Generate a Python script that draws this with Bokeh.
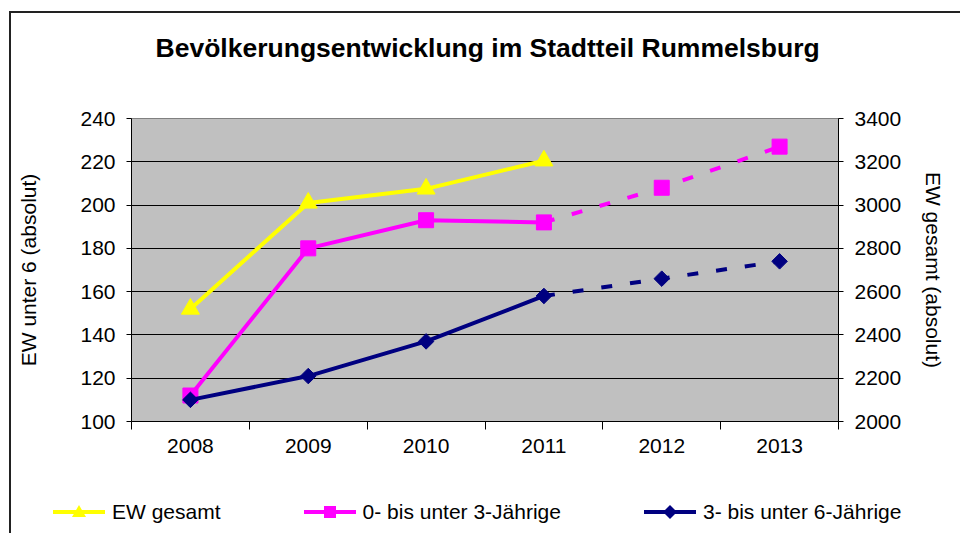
import numpy as np
from bokeh.plotting import figure
from bokeh.layouts import column
from bokeh.models import Range1d, LinearAxis, FixedTicker, Div
from bokeh.core.properties import value
from bokeh.embed import file_html
from bokeh.resources import INLINE

# ---- data ----
years = ["2008", "2009", "2010", "2011", "2012", "2013"]
ew_gesamt = [2520, 3010, 3075, 3205]            # right axis, 2008-2011
u3 = [112, 180, 193, 192, 208, 227]             # 0- bis unter 3-Jaehrige
u6 = [110, 121, 137, 158, 166, 174]             # 3- bis unter 6-Jaehrige
n_actual = 4                                     # 2008-2011 actual, then forecast (dashed)
left_ticks = [100, 120, 140, 160, 180, 200, 220, 240]
right_ticks = [2000, 2200, 2400, 2600, 2800, 3000, 3200, 3400]
title_text = "Bevölkerungsentwicklung im Stadtteil Rummelsburg"
left_label = "EW unter 6 (absolut)"
right_label = "EW gesamt (absolut)"
series_names = ["EW gesamt", "0- bis unter 3-Jährige", "3- bis unter 6-Jährige"]

FONT = "Liberation Sans"
FS = "21px"
YELLOW, MAGENTA, NAVY = "#FFFF00", "#FF00FF", "#000080"
series_colors = [YELLOW, MAGENTA, NAVY]
series_markers = ["triangle", "square", "diamond"]
W = 949

xs = list(range(len(years)))

# ---- title strip ----
tf = figure(width=W, height=92, output_backend="svg", toolbar_location=None,
            x_range=Range1d(0, W), y_range=Range1d(0, 92),
            x_axis_type=None, y_axis_type=None,
            min_border_left=0, min_border_right=0, min_border_top=0, min_border_bottom=0,
            outline_line_color=None, background_fill_color="white",
            border_fill_color="white")
tf.grid.visible = False
tf.text(x=[W / 2 + 3.5], y=[58], text=[title_text], text_font=value(FONT),
        text_font_size=value("26.5px"), text_font_style="bold",
        text_color="black", text_align="center", text_baseline="middle")

# ---- main chart ----
p = figure(width=W, height=375, output_backend="svg", toolbar_location=None,
           x_range=Range1d(-0.5, len(years) - 0.5),
           y_range=Range1d(left_ticks[0], left_ticks[-1]),
           min_border_left=120, min_border_right=122,
           min_border_top=13, min_border_bottom=59,
           background_fill_color="#C0C0C0", border_fill_color="white",
           outline_line_color="#808080")

# x axis: labels at centres, tick marks at category boundaries
xa = p.xaxis[0]
xa.ticker = FixedTicker(ticks=xs, minor_ticks=[i - 0.5 for i in range(len(years) + 1)])
xa.major_label_overrides = {i: y for i, y in zip(xs, years)}
xa.major_tick_out = 0
xa.major_tick_in = 0
xa.minor_tick_out = 8
xa.minor_tick_in = 0
xa.minor_tick_line_color = "black"
xa.axis_line_color = "black"
xa.major_label_standoff = 9
xa.major_label_text_font = FONT
xa.major_label_text_font_size = FS
xa.major_label_text_color = "black"
p.xgrid.visible = False

# left axis
ya = p.yaxis[0]
ya.ticker = FixedTicker(ticks=left_ticks)
ya.minor_tick_line_color = None
ya.major_tick_out = 5
ya.major_tick_in = 0
ya.major_tick_line_color = "black"
ya.axis_line_color = "black"
ya.major_label_standoff = 11
ya.major_label_text_font = FONT
ya.major_label_text_font_size = FS
ya.major_label_text_color = "black"
ya.axis_label = left_label
ya.axis_label_text_font = FONT
ya.axis_label_text_font_size = FS
ya.axis_label_text_font_style = "normal"
ya.axis_label_text_color = "black"
ya.axis_label_standoff = 37
p.ygrid.grid_line_color = "black"
p.ygrid.grid_line_width = 1

# right axis
p.extra_y_ranges = {"right": Range1d(right_ticks[0], right_ticks[-1])}
ra = LinearAxis(y_range_name="right", ticker=FixedTicker(ticks=right_ticks))
ra.minor_tick_line_color = None
ra.major_tick_out = 5
ra.major_tick_in = 0
ra.major_tick_line_color = "black"
ra.axis_line_color = "black"
ra.major_label_standoff = 11
ra.major_label_text_font = FONT
ra.major_label_text_font_size = FS
ra.major_label_text_color = "black"
ra.axis_label = right_label
ra.axis_label_text_font = FONT
ra.axis_label_text_font_size = FS
ra.axis_label_text_font_style = "normal"
ra.axis_label_text_color = "black"
ra.axis_label_standoff = 18
p.add_layout(ra, "right")

DASH = "11 18"

# EW gesamt (right axis)
p.line(xs[:n_actual], ew_gesamt, y_range_name="right", line_color=YELLOW, line_width=4)
p.scatter(xs[:n_actual], ew_gesamt, y_range_name="right", marker="triangle",
          size=18, fill_color=YELLOW, line_color=YELLOW)

# 0- bis unter 3
p.line(xs[:n_actual], u3[:n_actual], line_color=MAGENTA, line_width=4)
p.line(xs[n_actual - 1:], u3[n_actual - 1:], line_color=MAGENTA, line_width=4, line_dash=DASH)
p.scatter(xs, u3, marker="square", size=15, fill_color=MAGENTA, line_color=MAGENTA)

# 3- bis unter 6
p.line(xs[:n_actual], u6[:n_actual], line_color=NAVY, line_width=4)
p.line(xs[n_actual - 1:], u6[n_actual - 1:], line_color=NAVY, line_width=4, line_dash=DASH)
p.scatter(xs, u6, marker="square", angle=np.pi / 4, size=11,
          fill_color=NAVY, line_color=NAVY)

# ---- legend strip (HTML, real text) ----
def symbol_svg(color, marker):
    line = f'<line x1="0" y1="12" x2="52" y2="12" stroke="{color}" stroke-width="4"/>'
    if marker == "triangle":
        mk = f'<polygon points="26,5 33,17 19,17" fill="{color}"/>'
    elif marker == "square":
        mk = f'<rect x="20" y="6" width="12" height="12" fill="{color}"/>'
    else:
        mk = f'<polygon points="26,5 33,12 26,19 19,12" fill="{color}"/>'
    return f'<svg width="52" height="24" style="display:block">{line}{mk}</svg>'


parts = []
for k, (name, col, mk) in enumerate(zip(series_names, series_colors, series_markers)):
    gap = "" if k == 0 else "margin-left:83px;"
    parts.append(f'<div style="display:flex;align-items:center;{gap}">'
                 f'{symbol_svg(col, mk)}'
                 f'<span style="margin-left:7px;line-height:24px">{name}</span></div>')

legend_html = (f'<div style="position:relative;width:{W}px;height:53px;'
               f'font-family:\'{FONT}\';font-size:{FS};color:black;">'
               f'<div style="position:absolute;left:42px;top:20px;display:flex;'
               f'align-items:center;white-space:nowrap;">{"".join(parts)}</div></div>')
lf = Div(text=legend_html, width=W, height=53, margin=0)

layout = column(tf, p, lf, spacing=0)
layout.styles = {"border-left": "2px solid #222222", "border-top": "2px solid #222222",
                 "margin-left": "9px", "margin-top": "11px"}

open("out.html", "w").write(file_html(layout, INLINE))
